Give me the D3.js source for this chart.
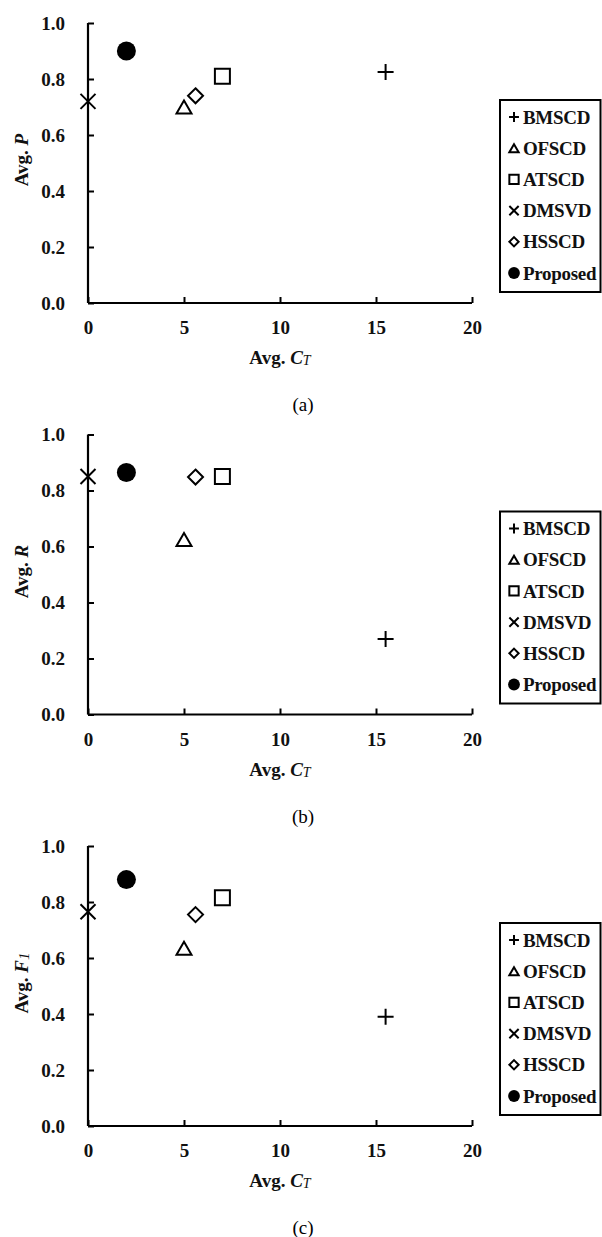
<!DOCTYPE html>
<html><head><meta charset="utf-8">
<script src="https://cdn.jsdelivr.net/npm/d3@7"></script>
<style>body{margin:0;background:#fff}svg{display:block}</style>
</head><body>
<svg id="c" width="602" height="1237"></svg>
<script>
const methods = ["BMSCD","OFSCD","ATSCD","DMSVD","HSSCD","Proposed"];
const avgCT = [15.5, 5.0, 7.0, 0.0, 5.6, 2.0];
const avgP  = [0.825, 0.70, 0.81, 0.72, 0.74, 0.90];
const avgR  = [0.27, 0.625, 0.85, 0.85, 0.848, 0.864];
const avgF1 = [0.39, 0.635, 0.815, 0.765, 0.755, 0.88];
const xTicks = [0,5,10,15,20];
const yTicks = [0,0.2,0.4,0.6,0.8,1.0];
const panels = [
  {values: avgP, yMain: "P", ySub: "", caption: "(a)"},
  {values: avgR, yMain: "R", ySub: "", caption: "(b)"},
  {values: avgF1, yMain: "F", ySub: "1", caption: "(c)"}
];
const markers = ["plus","triangle","square","times","diamond","circle"];

const FONT = "'Liberation Serif','Times New Roman',serif";
const svg = d3.select("#c");
const ink = "#111";

function markerPath(type, k){
  const p = d3.path();
  if(type==="plus"){ const s=8*k; p.moveTo(-s,0);p.lineTo(s,0);p.moveTo(0,-s);p.lineTo(0,s);}
  else if(type==="times"){ const s=7.5*k; p.moveTo(-s,-s);p.lineTo(s,s);p.moveTo(-s,s);p.lineTo(s,-s);}
  else if(type==="triangle"){ const w=7.5*k,h=6.5*k; p.moveTo(0,-h);p.lineTo(w,h);p.lineTo(-w,h);p.closePath();}
  else if(type==="square"){ const s=7.5*k; p.rect(-s,-s,2*s,2*s);}
  else if(type==="diamond"){ const s=7.5*k; p.moveTo(0,-s);p.lineTo(s,0);p.lineTo(0,s);p.lineTo(-s,0);p.closePath();}
  else if(type==="circle"){ const r=9.5*k; p.arc(0,0,r,0,2*Math.PI);}
  return p.toString();
}
function drawMarker(g, type, x, y, k){
  const filled = type==="circle";
  g.append("path").attr("d", markerPath(type,k))
    .attr("transform",`translate(${x},${y})`)
    .attr("fill", filled? "#000":"none")
    .attr("stroke", filled? "none":"#000")
    .attr("stroke-width", 2);
}

const left=88, right=472, top0=23, bottom0=303, step=411.5;

panels.forEach((pn,i)=>{
  const off = i*step;
  const g = svg.append("g").attr("transform",`translate(0,${off})`);
  const x = d3.scaleLinear().domain([0,20]).range([left,right]);
  const y = d3.scaleLinear().domain([0,1]).range([bottom0,top0]);

  // axes
  const xAxis = d3.axisBottom(x).tickValues(xTicks).tickSize(-6).tickPadding(18).tickFormat(d3.format("d"));
  const gx = g.append("g").attr("transform",`translate(0,${bottom0})`).call(xAxis);
  const yAxis = d3.axisLeft(y).tickValues(yTicks).tickSize(-6).tickPadding(23).tickFormat(d3.format(".1f"));
  const gy = g.append("g").attr("transform",`translate(${left},0)`).call(yAxis);
  [gx,gy].forEach(a=>{
    a.select(".domain").attr("stroke","#000").attr("stroke-width",2.2);
    a.selectAll(".tick line").attr("stroke","#000").attr("stroke-width",2);
    a.selectAll(".tick text").attr("font-family",FONT).attr("font-weight","bold")
      .attr("font-size",19).attr("fill",ink);
  });
  gx.select(".domain").attr("d",`M${left},0H${right}`);
  gy.select(".domain").attr("d",`M0,${top0}V${bottom0}`);
  gx.selectAll(".tick text").attr("dy","0.71em");

  // points
  const pts = g.append("g");
  methods.forEach((m,j)=> drawMarker(pts, markers[j], x(avgCT[j]), y(pn.values[j]), 1));

  // x label
  const xl = g.append("text").attr("x",(left+right)/2).attr("y",364)
    .attr("text-anchor","middle").attr("font-family",FONT).attr("font-size",19)
    .attr("font-weight","bold").attr("fill",ink);
  xl.append("tspan").text("Avg. ");
  xl.append("tspan").attr("font-style","italic").text("C");
  xl.append("tspan").attr("font-style","italic").attr("font-weight","normal").attr("font-size",14).attr("dy",1).text("T");

  // y label
  const yl = g.append("text").attr("transform",`translate(28,${160}) rotate(-90)`)
    .attr("text-anchor","middle").attr("font-family",FONT).attr("font-size",19)
    .attr("font-weight","bold").attr("fill",ink);
  yl.append("tspan").text("Avg. ");
  yl.append("tspan").attr("font-style","italic").text(pn.yMain);
  if(pn.ySub) yl.append("tspan").attr("font-style","italic").attr("font-weight","normal").attr("font-size",15).attr("dy",1).text(pn.ySub);

  // caption
  g.append("text").attr("x",303).attr("y",411).attr("text-anchor","middle")
    .attr("font-family",FONT).attr("font-size",19).attr("fill","#000").text(pn.caption);

  // legend
  const lg = g.append("g");
  lg.append("rect").attr("x",500).attr("y",100).attr("width",100.5).attr("height",192)
    .attr("fill","#fff").attr("stroke","#000").attr("stroke-width",2);
  methods.forEach((m,j)=>{
    const ly = 117 + j*31.2;
    drawMarker(lg, markers[j], 514, ly, 0.62);
    lg.append("text").attr("x",523).attr("y",ly).attr("dy","0.35em")
      .attr("font-family",FONT).attr("font-size",19).attr("font-weight","bold")
      .attr("fill",ink).attr("letter-spacing",-0.3).text(m);
  });
});
</script>
</body></html>
